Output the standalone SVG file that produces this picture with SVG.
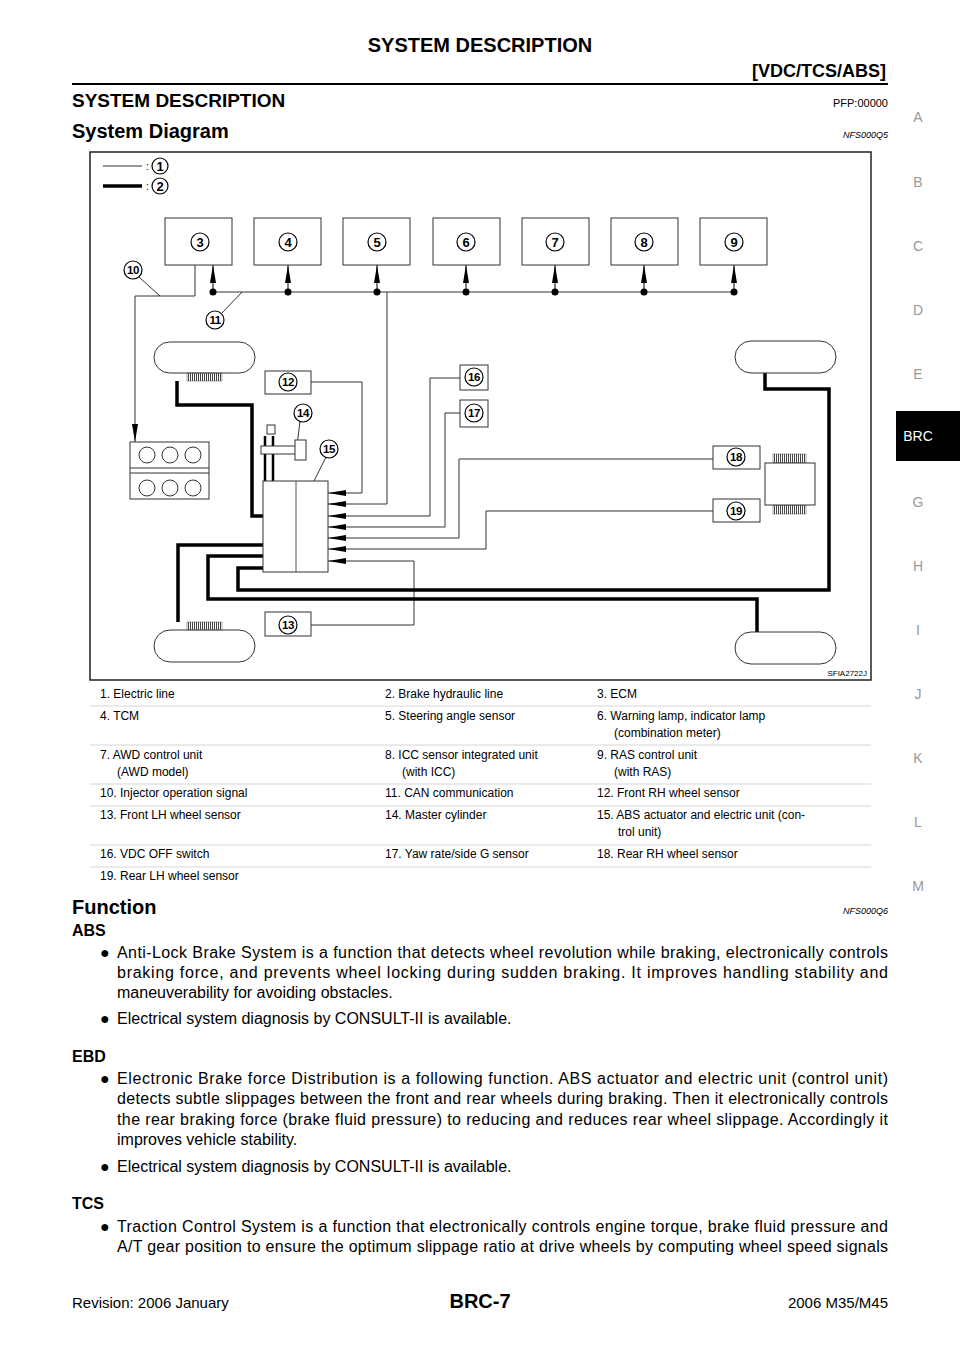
<svg xmlns="http://www.w3.org/2000/svg" width="960" height="1358" viewBox="0 0 960 1358">
<style>
text{font-family:"Liberation Sans",Arial,sans-serif;fill:#000}
.b{font-weight:bold}
.side{font-size:14px;fill:#999;text-anchor:middle}
.t{font-size:12px}
.p{font-size:16px}
.n{font-size:13px;text-anchor:middle;font-weight:bold}
.m{font-size:11.5px;text-anchor:middle;font-weight:bold;letter-spacing:-0.5px}
.c{fill:#fff;stroke:#000;stroke-width:1.2}
.thin{fill:none;stroke:#333;stroke-width:1}
.thick{fill:none;stroke:#000;stroke-width:3.5}
.box{fill:#fff;stroke:#333;stroke-width:1}
.hatch{fill:url(#h);stroke:#555;stroke-width:0.5}
</style>
<defs>
<pattern id="h" width="2" height="4" patternUnits="userSpaceOnUse"><rect width="1" height="4" fill="#444"/></pattern>
<marker id="al" markerWidth="18" markerHeight="8" refX="18" refY="4" orient="auto" markerUnits="userSpaceOnUse"><path d="M0,1 L18,4 L0,7 z" fill="#000"/></marker>
</defs>
<rect width="960" height="1358" fill="#fff"/>
<text x="480" y="52" class="b" font-size="20" text-anchor="middle">SYSTEM DESCRIPTION</text>
<text x="886" y="77" class="b" font-size="18" text-anchor="end">[VDC/TCS/ABS]</text>
<line x1="72" y1="84" x2="888" y2="84" stroke="#000" stroke-width="2"/>
<text x="72" y="107" class="b" font-size="19">SYSTEM DESCRIPTION</text>
<text x="888" y="107" font-size="11" text-anchor="end">PFP:00000</text>
<text x="72" y="138" class="b" font-size="20">System Diagram</text>
<text x="888" y="138" font-size="9" font-style="italic" text-anchor="end">NFS000Q5</text>
<g>
<text x="918" y="122" class="side">A</text><text x="918" y="187" class="side">B</text><text x="918" y="251" class="side">C</text><text x="918" y="315" class="side">D</text><text x="918" y="379" class="side">E</text>
<rect x="896" y="411" width="64" height="50" fill="#000"/><text x="918" y="441" font-size="14" style="fill:#fff" text-anchor="middle">BRC</text>
<text x="918" y="507" class="side">G</text><text x="918" y="571" class="side">H</text><text x="918" y="635" class="side">I</text><text x="918" y="699" class="side">J</text><text x="918" y="763" class="side">K</text><text x="918" y="827" class="side">L</text><text x="918" y="891" class="side">M</text>
</g>
<rect x="90" y="152" width="781" height="528" fill="#fff" stroke="#222" stroke-width="1.5"/>
<g id="legend">
<line x1="103" y1="166" x2="142" y2="166" stroke="#333" stroke-width="1"/><text x="146" y="170" font-size="10">:</text>
<circle cx="160" cy="166" r="8" class="c"/><text x="160" y="171" class="n">1</text>
<line x1="103" y1="186" x2="142" y2="186" stroke="#000" stroke-width="3.5"/><text x="146" y="190" font-size="10">:</text>
<circle cx="160" cy="186" r="8" class="c"/><text x="160" y="191" class="n">2</text>
</g>
<g id="connectors">
<line x1="213" y1="292" x2="734" y2="292" stroke="#333" stroke-width="1"/>
<g stroke="#000" stroke-width="1" marker-end="url(#al)">
<line x1="213" y1="292" x2="213" y2="265"/><line x1="288" y1="292" x2="288" y2="265"/><line x1="377" y1="292" x2="377" y2="265"/><line x1="466" y1="292" x2="466" y2="265"/><line x1="555" y1="292" x2="555" y2="265"/><line x1="644" y1="292" x2="644" y2="265"/><line x1="734" y1="292" x2="734" y2="265"/>
</g>
<g fill="#000"><circle cx="213" cy="292" r="3.5"/><circle cx="288" cy="292" r="3.5"/><circle cx="377" cy="292" r="3.5"/><circle cx="466" cy="292" r="3.5"/><circle cx="555" cy="292" r="3.5"/><circle cx="644" cy="292" r="3.5"/><circle cx="734" cy="292" r="3.5"/></g>
<path class="thin" d="M195,265 V296 H135 V442" marker-end="url(#al)"/>
<g class="thin" marker-end="url(#al)">
<path d="M311,382 H362 V493 H328"/>
<path d="M387,292 V504 H328"/>
<path d="M460,378 H430 V516 H328"/>
<path d="M460,413 H445 V527 H328"/>
<path d="M713,459 H459 V538 H328"/>
<path d="M713,511 H486 V549 H328"/>
<path d="M311,625 H414 V561 H328"/>
</g>
<path class="thick" d="M177,381 V405 H252 V516 H263"/>
<path class="thick" d="M178,622 V545 H263"/>
<path class="thick" d="M263,556 H208 V599 H757 V632"/>
<path class="thick" d="M263,568 H238 V590 H829 V389 H765 V373"/>
<g stroke="#000" stroke-width="0.8">
<line x1="160" y1="296" x2="139" y2="277"/><line x1="242" y1="292" x2="222" y2="313"/>
<line x1="297" y1="446" x2="300" y2="421"/><line x1="314" y1="481" x2="326" y2="457"/>
</g>
</g>
<g id="n3"><rect x="165" y="218" width="67" height="47" class="box"/><circle cx="200" cy="242" r="9" class="c"/><text x="200" y="247" class="n">3</text></g>
<g id="n4"><rect x="254" y="218" width="67" height="47" class="box"/><circle cx="288" cy="242" r="9" class="c"/><text x="288" y="247" class="n">4</text></g>
<g id="n5"><rect x="343" y="218" width="67" height="47" class="box"/><circle cx="377" cy="242" r="9" class="c"/><text x="377" y="247" class="n">5</text></g>
<g id="n6"><rect x="433" y="218" width="67" height="47" class="box"/><circle cx="466" cy="242" r="9" class="c"/><text x="466" y="247" class="n">6</text></g>
<g id="n7"><rect x="522" y="218" width="67" height="47" class="box"/><circle cx="555" cy="242" r="9" class="c"/><text x="555" y="247" class="n">7</text></g>
<g id="n8"><rect x="611" y="218" width="67" height="47" class="box"/><circle cx="644" cy="242" r="9" class="c"/><text x="644" y="247" class="n">8</text></g>
<g id="n9"><rect x="700" y="218" width="67" height="47" class="box"/><circle cx="734" cy="242" r="9" class="c"/><text x="734" y="247" class="n">9</text></g>
<g id="n10"><circle cx="133" cy="270" r="9" class="c"/><text x="133" y="274" class="m">10</text></g>
<g id="n11"><circle cx="215" cy="320" r="9" class="c"/><text x="215" y="324" class="m">11</text></g>
<g id="wheelFR"><rect x="154" y="342" width="101" height="31" rx="15.5" class="box"/><rect x="187" y="373" width="35" height="8" class="hatch"/></g>
<g id="wheelFL"><rect x="154" y="630" width="101" height="32" rx="16" class="box"/><rect x="187" y="622" width="35" height="8" class="hatch"/></g>
<g id="wheelRR"><rect x="735" y="341" width="101" height="32" rx="16" class="box"/></g>
<g id="wheelRL"><rect x="735" y="632" width="101" height="32" rx="16" class="box"/></g>
<g id="engine"><rect x="130" y="442" width="79" height="57" class="box"/><line x1="130" y1="468" x2="209" y2="468" stroke="#333"/><line x1="130" y1="473" x2="209" y2="473" stroke="#333"/>
<g class="box"><circle cx="147" cy="455" r="8"/><circle cx="170" cy="455" r="8"/><circle cx="193" cy="455" r="8"/><circle cx="147" cy="488" r="8"/><circle cx="170" cy="488" r="8"/><circle cx="193" cy="488" r="8"/></g></g>
<g id="n12"><rect x="265" y="371" width="46" height="23" class="box"/><circle cx="288" cy="382" r="9" class="c"/><text x="288" y="386" class="m">12</text></g>
<g id="n13"><rect x="265" y="612" width="46" height="24" class="box"/><circle cx="288" cy="625" r="9" class="c"/><text x="288" y="629" class="m">13</text></g>
<g id="n14"><line x1="265" y1="436" x2="265" y2="481" stroke="#000" stroke-width="2.5"/><line x1="273" y1="436" x2="273" y2="481" stroke="#000" stroke-width="2.5"/>
<rect x="267" y="425" width="8" height="9" class="box"/><rect x="261" y="446" width="42" height="8" class="box"/><rect x="295" y="440" width="11" height="20" class="box"/>
<circle cx="303" cy="413" r="9" class="c"/><text x="303" y="417" class="m">14</text></g>
<g id="n15"><rect x="263" y="481" width="65" height="91" class="box"/><line x1="296" y1="481" x2="296" y2="572" stroke="#555"/>
<circle cx="329" cy="449" r="9" class="c"/><text x="329" y="453" class="m">15</text></g>
<g id="n16"><rect x="460" y="365" width="28" height="25" class="box"/><circle cx="474" cy="377" r="9" class="c"/><text x="474" y="381" class="m">16</text></g>
<g id="n17"><rect x="460" y="400" width="28" height="27" class="box"/><circle cx="474" cy="413" r="9" class="c"/><text x="474" y="417" class="m">17</text></g>
<g id="n18"><rect x="713" y="446" width="47" height="23" class="box"/><circle cx="736" cy="457" r="9" class="c"/><text x="736" y="461" class="m">18</text></g>
<g id="n19"><rect x="713" y="499" width="47" height="23" class="box"/><circle cx="736" cy="511" r="9" class="c"/><text x="736" y="515" class="m">19</text></g>
<g id="diff"><rect x="773" y="454" width="33" height="9" class="hatch"/><rect x="773" y="505" width="33" height="9" class="hatch"/><rect x="765" y="463" width="50" height="42" class="box"/></g>
<text x="867" y="676" font-size="8" text-anchor="end">SFIA2722J</text>
<g class="t">
<text x="100" y="698">1.  Electric line</text><text x="385" y="698">2.  Brake hydraulic line</text><text x="597" y="698">3.  ECM</text>
<text x="100" y="720">4.  TCM</text><text x="385" y="720">5.  Steering angle sensor</text><text x="597" y="720">6.  Warning lamp, indicator lamp</text><text x="614" y="737">(combination meter)</text>
<text x="100" y="759">7.  AWD control unit</text><text x="117" y="776">(AWD model)</text><text x="385" y="759">8.  ICC sensor integrated unit</text><text x="402" y="776">(with ICC)</text><text x="597" y="759">9.  RAS control unit</text><text x="614" y="776">(with RAS)</text>
<text x="100" y="797">10. Injector operation signal</text><text x="385" y="797">11. CAN communication</text><text x="597" y="797">12. Front RH wheel sensor</text>
<text x="100" y="819">13. Front LH wheel sensor</text><text x="385" y="819">14. Master cylinder</text><text x="597" y="819">15. ABS actuator and electric unit (con-</text><text x="618" y="836">trol unit)</text>
<text x="100" y="858">16. VDC OFF switch</text><text x="385" y="858">17. Yaw rate/side G sensor</text><text x="597" y="858">18. Rear RH wheel sensor</text>
<text x="100" y="880">19. Rear LH wheel sensor</text>
</g>
<g stroke="#ccc" stroke-width="0.8"><line x1="90" y1="706" x2="871" y2="706"/><line x1="90" y1="745" x2="871" y2="745"/><line x1="90" y1="784" x2="871" y2="784"/><line x1="90" y1="806" x2="871" y2="806"/><line x1="90" y1="845" x2="871" y2="845"/><line x1="90" y1="867" x2="871" y2="867"/></g>
<text x="72" y="914" class="b" font-size="20">Function</text>
<text x="888" y="914" font-size="9" font-style="italic" text-anchor="end">NFS000Q6</text>
<text x="72" y="936" class="b" font-size="16">ABS</text>
<g class="p">
<text x="100" y="958">●</text><text x="117" y="958" textLength="771" lengthAdjust="spacing">Anti-Lock Brake System is a function that detects wheel revolution while braking, electronically controls</text>
<text x="117" y="978" textLength="771" lengthAdjust="spacing">braking force, and prevents wheel locking during sudden braking. It improves handling stability and</text>
<text x="117" y="998">maneuverability for avoiding obstacles.</text>
<text x="100" y="1024">●</text><text x="117" y="1024">Electrical system diagnosis by CONSULT-II is available.</text>
</g>
<text x="72" y="1062" class="b" font-size="16">EBD</text>
<g class="p">
<text x="100" y="1084">●</text><text x="117" y="1084" textLength="771" lengthAdjust="spacing">Electronic Brake force Distribution is a following function. ABS actuator and electric unit (control unit)</text>
<text x="117" y="1104" textLength="771" lengthAdjust="spacing">detects subtle slippages between the front and rear wheels during braking. Then it electronically controls</text>
<text x="117" y="1125" textLength="771" lengthAdjust="spacing">the rear braking force (brake fluid pressure) to reducing and reduces rear wheel slippage. Accordingly it</text>
<text x="117" y="1145">improves vehicle stability.</text>
<text x="100" y="1172">●</text><text x="117" y="1172">Electrical system diagnosis by CONSULT-II is available.</text>
</g>
<text x="72" y="1209" class="b" font-size="16">TCS</text>
<g class="p">
<text x="100" y="1232">●</text><text x="117" y="1232" textLength="771" lengthAdjust="spacing">Traction Control System is a function that electronically controls engine torque, brake fluid pressure and</text>
<text x="117" y="1252" textLength="771" lengthAdjust="spacing">A/T gear position to ensure the optimum slippage ratio at drive wheels by computing wheel speed signals</text>
</g>
<text x="72" y="1308" font-size="15">Revision: 2006 January</text>
<text x="480" y="1308" class="b" font-size="20" text-anchor="middle">BRC-7</text>
<text x="888" y="1308" font-size="15" text-anchor="end">2006 M35/M45</text>
</svg>
